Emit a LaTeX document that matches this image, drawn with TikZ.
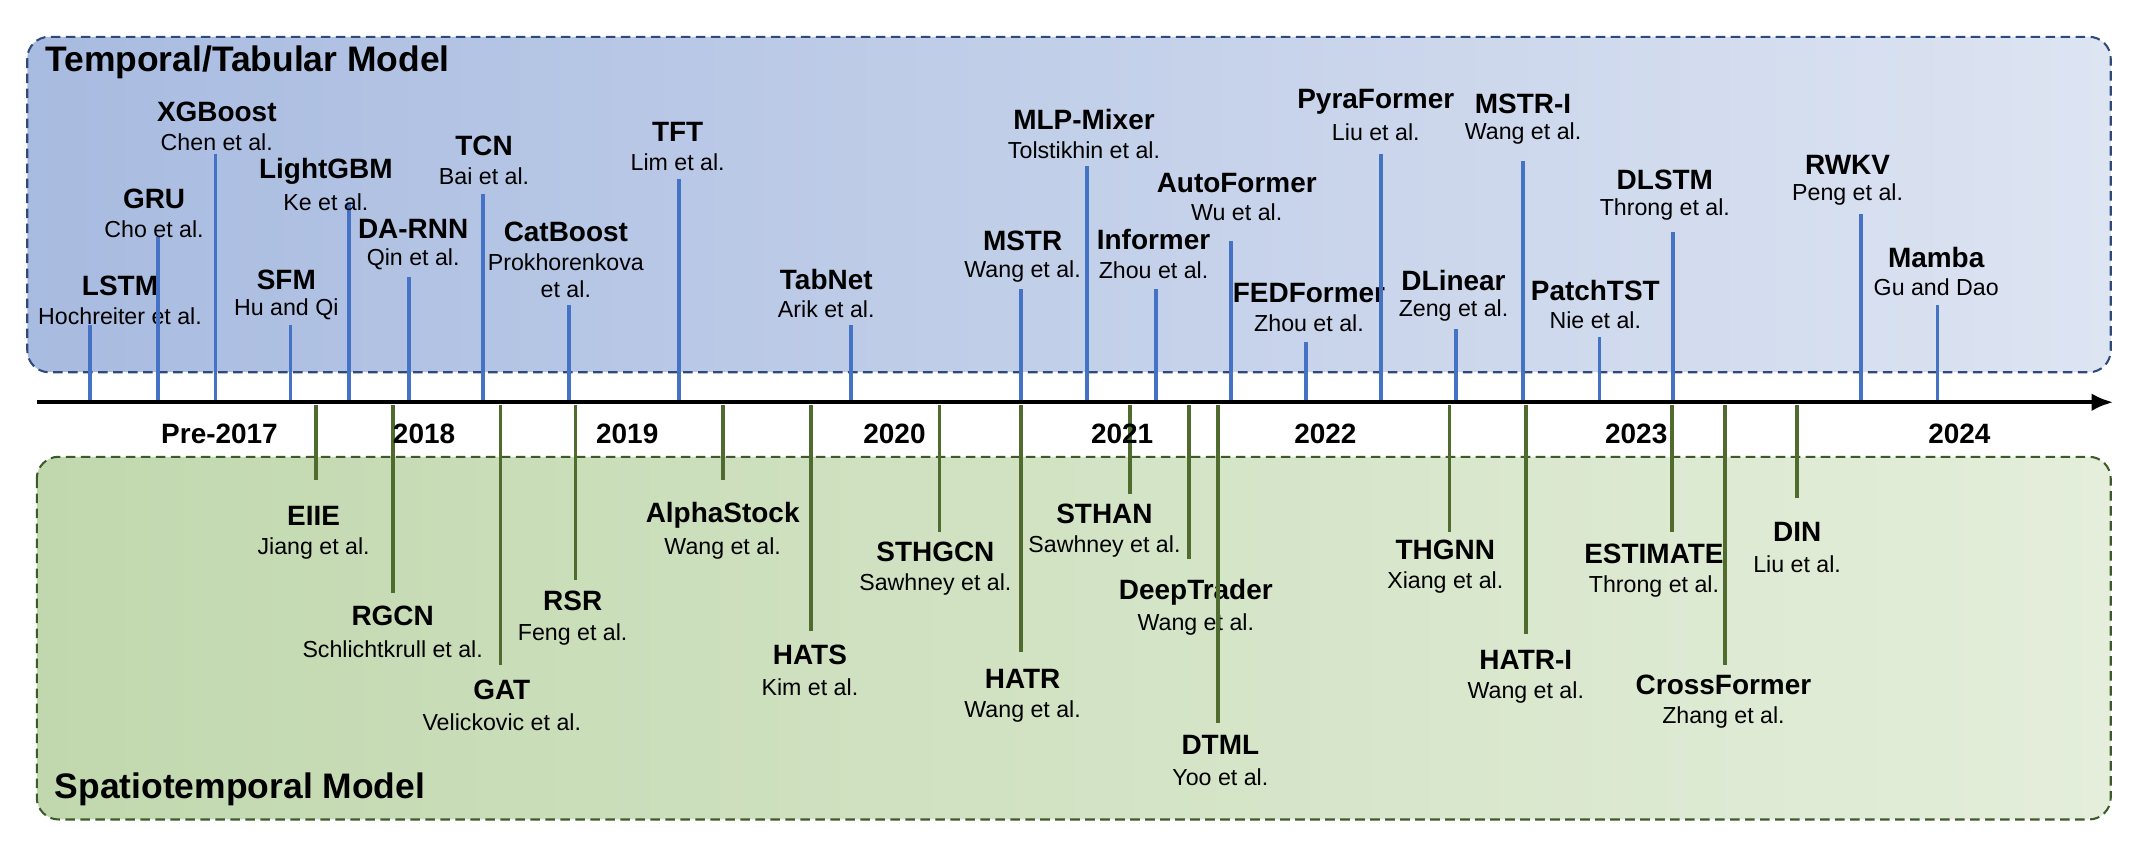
\documentclass[tikz,border=0pt]{standalone}
\usepackage{fontspec}
\setmainfont{Liberation Sans}
\usetikzlibrary{arrows.meta}
\definecolor{tl}{HTML}{4472C4}
\definecolor{gl}{HTML}{4F6B2E}
\definecolor{tb}{HTML}{2F4A7A}
\definecolor{gb}{HTML}{3E5A2A}
\tikzset{
 nm/.style={font=\fontsize{20.5}{22}\selectfont\bfseries,inner sep=0},
 sb/.style={font=\fontsize{17}{20}\selectfont,inner sep=0},
 tline/.style={tl,line width=2.8pt},
 gline/.style={gl,line width=2.8pt},
 yr/.style={font=\fontsize{20.5}{22}\selectfont\bfseries,inner sep=0},
 bx/.style={dash pattern=on 7pt off 4pt,line width=1.5pt,rounded corners=16pt}
}
\newcommand{\topitem}[7]{%
 \coordinate (t#1a) at (#2,295); \coordinate (t#1b) at (#2,#3);
 \draw[tline] (t#1a) -- (t#1b);
 \node[nm] (t#1n) at (#4,#5) {#6};
 \node[sb] (t#1s) at (#4,#5+22) {#7};}
\newcommand{\botitem}[7]{%
 \coordinate (b#1a) at (#2,297); \coordinate (b#1b) at (#2,#3);
 \draw[gline] (b#1a) -- (b#1b);
 \node[nm] (b#1n) at (#4,#5) {#6};
 \node[sb] (b#1s) at (#4,#5+24) {#7};}
\begin{document}
\begin{tikzpicture}[x=1pt,y=-1pt]
\useasboundingbox (0,0) rectangle (1568,623);
\shade[left color={rgb,255:red,168;green,187;blue,224},right color={rgb,255:red,221;green,228;blue,242},rounded corners=16pt] (20,27) rectangle (1548,273);
\draw[tb,bx] (20,27) rectangle (1548,273);
\shade[left color={rgb,255:red,193;green,216;blue,174},right color={rgb,255:red,228;green,238;blue,219},rounded corners=16pt] (27,335) rectangle (1548,601);
\draw[gb,bx] (27,335) rectangle (1548,601);
\node[font=\fontsize{26}{28}\selectfont\bfseries,anchor=west,inner sep=0] (ttl) at (33,46) {Temporal/Tabular Model};
\node[font=\fontsize{26}{28}\selectfont\bfseries,anchor=west,inner sep=0] (btl) at (40,579) {Spatiotemporal Model};
% top items
\topitem{1}{66}{238}{88}{210}{LSTM}{Hochreiter et al.}
\topitem{2}{116}{174}{113}{146}{GRU}{Cho et al.}
\topitem{3}{158}{113}{159}{82}{XGBoost}{Chen et al.}
\topitem{4}{213}{238}{210}{205}{SFM}{Hu and Qi}
\topitem{5}{256}{148}{239}{126}{LightGBM}{Ke et al.}
\topitem{6}{300}{203}{303}{168}{DA-RNN}{Qin et al.}
\topitem{7}{354}{142}{355}{107}{TCN}{Bai et al.}
\coordinate (t8a) at (417,295); \coordinate (t8b) at (417,224);
\draw[tline] (t8a) -- (t8b);
\node[nm] (t8n) at (415,170) {CatBoost};
\node[sb,align=center] (t8s) at (415,202) {Prokhorenkova\\et al.};
\topitem{9}{498}{131}{497}{97}{TFT}{Lim et al.}
\topitem{10}{624}{238}{606}{205}{TabNet}{Arik et al.}
\topitem{11}{749}{212}{750}{177}{MSTR}{Wang et al.}
\topitem{12}{797}{122}{795}{88}{MLP-Mixer}{Tolstikhin et al.}
\topitem{13}{848}{212}{846}{176}{Informer}{Zhou et al.}
\topitem{14}{903}{177}{907}{134}{AutoFormer}{Wu et al.}
\topitem{15}{958}{251}{960}{215}{FEDFormer}{Zhou et al.}
\topitem{16}{1013}{113}{1009}{75}{PyraFormer}{Liu et al.}
\topitem{17}{1068}{241}{1066}{206}{DLinear}{Zeng et al.}
\topitem{18}{1117}{118}{1117}{76}{MSTR-I}{Wang et al.}
\topitem{19}{1173}{247}{1170}{213}{PatchTST}{Nie et al.}
\topitem{20}{1227}{170}{1221}{132}{DLSTM}{Throng et al.}
\topitem{21}{1365}{157}{1355}{121}{RWKV}{Peng et al.}
\topitem{22}{1421}{224}{1420}{189}{Mamba}{Gu and Dao}
% bottom items
\botitem{1}{232}{352}{230}{378}{EIIE}{Jiang et al.}
\botitem{2}{288}{435}{288}{452}{RGCN}{Schlichtkrull et al.}
\botitem{3}{367}{488}{368}{506}{GAT}{Velickovic et al.}
\botitem{4}{422}{425}{420}{441}{RSR}{Feng et al.}
\botitem{5}{530}{352}{530}{378}{AlphaStock}{Wang et al.}
\botitem{6}{595}{463}{594}{480}{HATS}{Kim et al.}
\botitem{7}{689}{390}{686}{405}{STHGCN}{Sawhney et al.}
\botitem{8}{749}{478}{750}{498}{HATR}{Wang et al.}
\botitem{9}{829}{362}{810}{377}{STHAN}{Sawhney et al.}
\botitem{10}{872}{410}{877}{434}{DeepTrader}{Wang et al.}
\botitem{11}{893}{530}{895}{546}{DTML}{Yoo et al.}
\botitem{12}{1063}{390}{1060}{403}{THGNN}{Xiang et al.}
\botitem{13}{1119}{465}{1119}{484}{HATR-I}{Wang et al.}
\botitem{14}{1226}{390}{1213}{406}{ESTIMATE}{Throng et al.}
\botitem{15}{1265}{488}{1264}{502}{CrossFormer}{Zhang et al.}
\botitem{16}{1318}{365}{1318}{390}{DIN}{Liu et al.}
% axis
\coordinate (ax0) at (27,295); \coordinate (ax1) at (1550,295);
\draw[line width=3.2pt,-{Latex[length=16pt,width=13pt]}] (ax0) -- (ax1);
\node[yr] (y1) at (161,318) {Pre-2017};
\node[yr] (y2) at (311,318) {2018};
\node[yr] (y3) at (460,318) {2019};
\node[yr] (y4) at (656,318) {2020};
\node[yr] (y5) at (823,318) {2021};
\node[yr] (y6) at (972,318) {2022};
\node[yr] (y7) at (1200,318) {2023};
\node[yr] (y8) at (1437,318) {2024};
\end{tikzpicture}
\end{document}
